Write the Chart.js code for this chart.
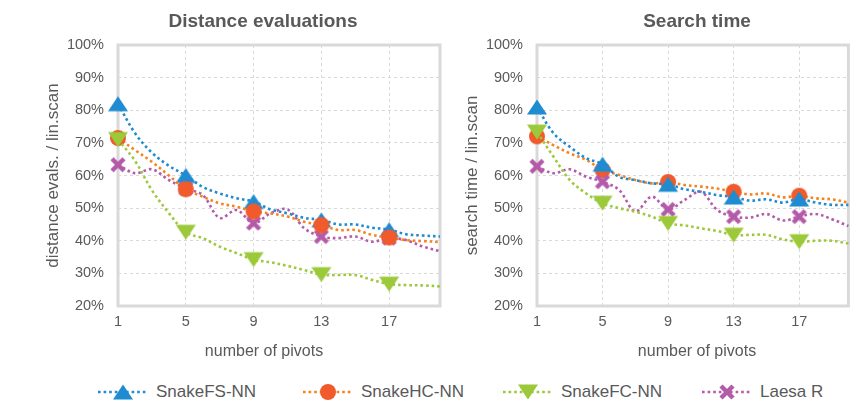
<!DOCTYPE html>
<html lang="en">
<head>
  <meta charset="UTF-8" />
  <title>Distance evaluations / Search time</title>
  <script src="https://cdn.jsdelivr.net/npm/chart.js"></script>
  <style>
    body { margin: 0; background: #fff; }
    #wrap { position: relative; width: 859px; height: 403px; font-family: "Liberation Sans", Arial, sans-serif; }
    #wrap canvas.chart { position: absolute; left: 0; top: 0; }
    .item { position: absolute; top: 382px; height: 20px; display: flex; align-items: center; font-size: 17px; color: #595959; white-space: nowrap; }
    .item canvas { margin-right: 8px; }
  </style>
</head>
<body>
  <div id="wrap">
    <canvas id="distChart" class="chart" width="859" height="370"></canvas>
    <canvas id="timeChart" class="chart" width="859" height="370"></canvas>
    <div id="legend"></div>
  </div>

  <script>
    // data (percent of linear scan)
    const pivots = [1, 2, 3, 4, 5, 6, 7, 8, 9, 10, 11, 12, 13, 14, 15, 16, 17, 18, 19, 20];
    const xTicks = [1, 5, 9, 13, 17];
    const seriesNames = ['SnakeFS-NN', 'SnakeHC-NN', 'SnakeFC-NN', 'Laesa R'];

    const fsDist = [82, 73, 67, 63, 60, 56.5, 54.5, 53, 52, 49.6, 48.4, 47, 46.4, 45, 45, 44, 43.4, 42, 41.6, 41.3];
    const hcDist = [71.5, 67.8, 64.2, 60, 55.8, 53.5, 51.5, 50.4, 49, 48.4, 47.4, 45.8, 44.8, 43.3, 43.3, 41.8, 41, 40.2, 39.9, 39.6];
    const fcDist = [71, 64.5, 55.5, 48.5, 42.6, 40.8, 38.2, 36.2, 34.2, 33.4, 32.3, 31, 29.6, 29.5, 29.5, 28, 26.7, 26.4, 26.3, 26];
    const laesaDist = [63.3, 60.7, 61.9, 58.6, 56, 54, 47, 49.4, 45.4, 48.4, 49.6, 43.8, 41.3, 40.8, 41.3, 39.7, 40.8, 40.2, 38.2, 36.8];

    const fsTime = [81, 73, 68.8, 65.3, 63.5, 59.6, 58.6, 57.6, 57.3, 55.8, 55, 54, 53.4, 52.3, 52.7, 51.7, 52.8, 51.7, 51, 51];
    const hcTime = [72, 69.3, 66.8, 64.8, 61.7, 60.2, 58.6, 57.6, 58, 57.1, 56.6, 56, 55, 54.2, 54.5, 53.3, 53.8, 53, 52.7, 51.7];
    const fcTime = [73.3, 65.8, 58.6, 54.5, 51.5, 50, 48.9, 47.4, 45.3, 44.7, 43.8, 43, 41.7, 41.8, 41.8, 40.4, 39.7, 40, 40, 39.2];
    const laesaTime = [62.8, 60.7, 61.9, 59.6, 58.1, 55.6, 49, 53.5, 49.6, 52.5, 55, 49.4, 47.4, 47.1, 48.2, 46.2, 47.4, 48.2, 46.6, 44.5];

    const textGray = '#595959';
    const frameGray = '#d9d9d9';
    Chart.defaults.font.family = '"Liberation Sans", Arial, sans-serif';

    const styles = [
      { line: '#1f8bd0', fill: '#1f8bd0', shape: 'up' },
      { line: '#f7821b', fill: '#f15a2b', shape: 'circle' },
      { line: '#9bc93a', fill: '#9bc93a', shape: 'down' },
      { line: '#b45aa9', fill: '#b45aa9', shape: 'x' }
    ];

    function drawMarker(g, shape, color, x, y) {
      g.fillStyle = color;
      g.strokeStyle = color;
      g.beginPath();
      if (shape === 'up') {
        g.moveTo(x, y - 7.5); g.lineTo(x + 10, y + 7.5); g.lineTo(x - 10, y + 7.5); g.closePath(); g.fill();
      } else if (shape === 'down') {
        g.moveTo(x - 10, y - 7.5); g.lineTo(x + 10, y - 7.5); g.lineTo(x, y + 7.5); g.closePath(); g.fill();
      } else if (shape === 'circle') {
        g.arc(x, y, 8, 0, Math.PI * 2); g.fill();
      } else {
        g.lineWidth = 4.5;
        g.moveTo(x - 6, y - 6); g.lineTo(x + 6, y + 6);
        g.moveTo(x + 6, y - 6); g.lineTo(x - 6, y + 6);
        g.stroke();
      }
    }

    function markerImage(s) {
      const c = document.createElement('canvas');
      c.width = 22; c.height = 22;
      drawMarker(c.getContext('2d'), s.shape, s.fill, 11, 11);
      return c;
    }
    const markers = styles.map(markerImage);

    // plot area box, drawn under the series
    const frame = {
      id: 'frame',
      beforeDatasetsDraw(chart) {
        const { ctx, chartArea: a } = chart;
        ctx.save();
        ctx.strokeStyle = frameGray;
        ctx.lineWidth = 3;
        ctx.strokeRect(a.left, a.top, a.right - a.left, a.bottom - a.top);
        ctx.restore();
      }
    };

    // chart title and x axis title at fixed centres
    const panelText = {
      id: 'panelText',
      afterDraw(chart, args, o) {
        const g = chart.ctx;
        g.save();
        g.fillStyle = textGray;
        g.textAlign = 'center';
        g.textBaseline = 'middle';
        g.font = 'bold 19px "Liberation Sans", Arial, sans-serif';
        g.fillText(o.title, o.cx, 22);
        g.font = '16px "Liberation Sans", Arial, sans-serif';
        g.fillText(o.xTitle, o.xcx, 352);
        g.restore();
      }
    };

    function makeChart(id, title, yTitle, values, opt) {
      const datasets = values.map((vals, i) => ({
        label: seriesNames[i],
        data: vals.map((v, j) => ({ x: pivots[j], y: v })),
        borderColor: styles[i].line,
        backgroundColor: styles[i].fill,
        borderWidth: 2.6,
        borderDash: [2.6, 3],
        tension: 0.35,
        fill: false,
        clip: false,
        order: opt.order[i],
        pointStyle: markers[i],
        pointRadius: c => xTicks.includes(pivots[c.dataIndex]) ? 8 : 0,
        pointHoverRadius: c => xTicks.includes(pivots[c.dataIndex]) ? 8 : 0
      }));

      const grid = { color: frameGray, lineWidth: 1, drawTicks: false };
      const border = { display: false, dash: [3, 3] };

      return new Chart(document.getElementById(id), {
        type: 'line',
        data: { datasets },
        options: {
          responsive: false,
          animation: false,
          events: [],
          layout: { padding: { left: opt.padLeft, right: opt.padRight, top: 45, bottom: 34 } },
          plugins: {
            legend: { display: false },
            tooltip: { enabled: false },
            panelText: { title, xTitle: 'number of pivots', cx: opt.cx, xcx: opt.xcx }
          },
          scales: {
            x: {
              type: 'linear',
              min: 1,
              max: 20,
              afterBuildTicks: s => { s.ticks = xTicks.map(v => ({ value: v })); },
              afterFit: s => { s.height = 30; },
              grid,
              border,
              ticks: { color: textGray, font: { size: 14.5 }, padding: 7, maxRotation: 0 }
            },
            y: {
              min: 20,
              max: 100,
              afterFit: s => { s.width = opt.yWidth; },
              grid,
              border,
              ticks: { stepSize: 10, color: textGray, font: { size: 14.5 }, padding: 14, callback: v => v + '%' },
              title: { display: true, text: yTitle, color: textGray, font: { size: 17 }, padding: { top: opt.yTitlePad, bottom: 0 } }
            }
          }
        },
        plugins: [frame, panelText]
      });
    }

    makeChart('distChart', 'Distance evaluations', 'distance evals. / lin.scan',
      [fsDist, hcDist, fcDist, laesaDist],
      { padLeft: 0, padRight: 419, yWidth: 118, yTitlePad: 43, cx: 263, xcx: 264, order: [3, 1, 0, 2] });

    makeChart('timeChart', 'Search time', 'search time / lin.scan',
      [fsTime, hcTime, fcTime, laesaTime],
      { padLeft: 430, padRight: 1, yWidth: 107, yTitlePad: 32, cx: 697, xcx: 697, order: [1, 3, 0, 2] });

    // legend: dotted line with the marker in the middle, then the name
    const legendLeft = [98, 303, 503, 702];
    const legend = document.getElementById('legend');
    seriesNames.forEach((name, i) => {
      const item = document.createElement('div');
      item.className = 'item';
      item.style.left = legendLeft[i] + 'px';
      const icon = document.createElement('canvas');
      icon.width = 50; icon.height = 20;
      const g = icon.getContext('2d');
      g.strokeStyle = styles[i].line;
      g.lineWidth = 2.6;
      g.setLineDash([2.6, 3]);
      g.beginPath(); g.moveTo(0, 10); g.lineTo(50, 10); g.stroke();
      g.setLineDash([]);
      drawMarker(g, styles[i].shape, styles[i].fill, 25, 10);
      const label = document.createElement('span');
      label.textContent = name;
      item.appendChild(icon);
      item.appendChild(label);
      legend.appendChild(item);
    });
  </script>
</body>
</html>
